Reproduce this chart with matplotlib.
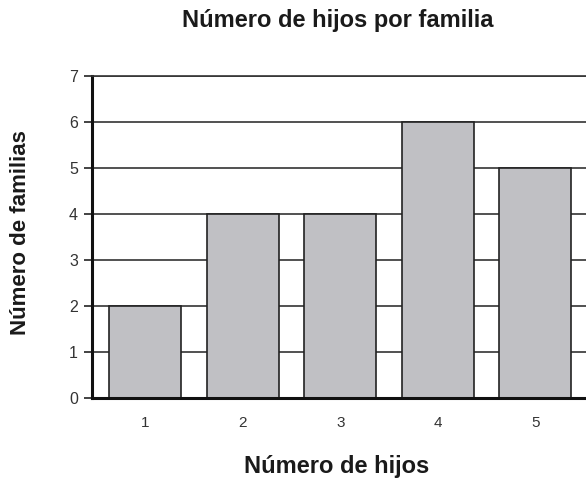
import matplotlib
matplotlib.use("Agg")
import matplotlib.pyplot as plt

categories = [1, 2, 3, 4, 5]
values = [2, 4, 4, 6, 5]
yticks = [0, 1, 2, 3, 4, 5, 6, 7]

plt.rcParams['font.family'] = ['Liberation Sans', 'DejaVu Sans']

W, H = 586, 495
fig = plt.figure(figsize=(W/100, H/100), dpi=100)
ax = fig.add_axes([92/W, 97/H, 1 - 92/W, (398-76)/H])

ax.set_axisbelow(True)
ax.yaxis.grid(True, color='#333333', linewidth=1.2)
ax.bar(categories, values, width=0.74, color='#c0c0c4', edgecolor='#222222', linewidth=1.2, zorder=2)

ax.set_xlim(0.455, 5.52)
ax.set_ylim(0, 7)
ax.set_yticks(yticks)
ax.set_xticks(categories)
ax.tick_params(axis='x', length=0, pad=13, labelsize=11, colors='#333333')
ax.tick_params(axis='y', length=6, width=1.2, pad=4, labelsize=11.5, colors='#333333')
ax.tick_params(axis='y', color='#222222')

ax.spines['right'].set_visible(False)
ax.spines['top'].set_color('#333333')
ax.spines['top'].set_linewidth(1.2)
ax.spines['left'].set_linewidth(2.2)
ax.spines['left'].set_color('#111111')
ax.spines['bottom'].set_linewidth(2.2)
ax.spines['bottom'].set_color('#111111')

fig.text(338/W, 1 - 21/H, 'Número de hijos por familia', fontsize=17, fontweight='bold',
         ha='center', va='center', color='#1a1a1a')
fig.text(337/W, 1 - 467/H, 'Número de hijos', fontsize=17, fontweight='bold',
         ha='center', va='center', color='#1a1a1a')
fig.text(21/W, 1 - 233/H, 'Número de familias', fontsize=16, fontweight='bold',
         ha='center', va='center', rotation=90, color='#1a1a1a')

fig.savefig('out.png', dpi=100)
